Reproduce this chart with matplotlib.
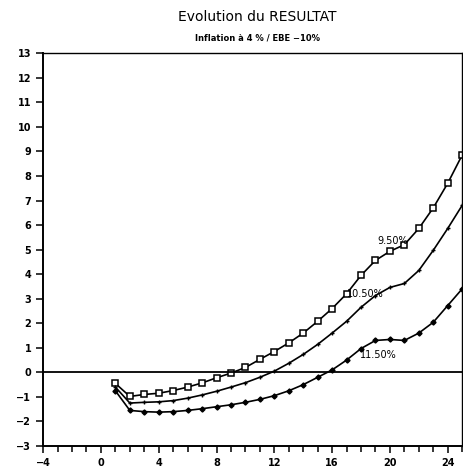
import numpy as np
import matplotlib
matplotlib.use("Agg")
import matplotlib.pyplot as plt

# Data
years = np.arange(1, 26)
res_950 = [-0.45, -0.98, -0.9, -0.85, -0.74, -0.6, -0.43, -0.22, -0.03, 0.2,
           0.53, 0.85, 1.2, 1.6, 2.08, 2.6, 3.2, 3.95, 4.56, 4.93,
           5.2, 5.86, 6.7, 7.7, 8.85]
res_1050 = [-0.6, -1.25, -1.22, -1.2, -1.15, -1.05, -0.92, -0.77, -0.6, -0.42,
            -0.2, 0.05, 0.37, 0.73, 1.14, 1.6, 2.08, 2.65, 3.13, 3.46,
            3.62, 4.15, 4.97, 5.86, 6.8]
res_1150 = [-0.75, -1.55, -1.6, -1.62, -1.6, -1.55, -1.48, -1.4, -1.32, -1.22,
            -1.1, -0.95, -0.75, -0.5, -0.2, 0.1, 0.5, 0.97, 1.3, 1.34,
            1.3, 1.6, 2.04, 2.72, 3.4]
labels = ["9.50%", "10.50%", "11.50%"]
label_pos = [(19.1, 5.37), (17.0, 3.18), (17.9, 0.69)]

fig = plt.figure(figsize=(4.64, 4.75), dpi=100)
ax = fig.add_axes([0.093, 0.061, 0.903, 0.827])

ax.plot(years, res_950, color="black", lw=1.2, marker="s", ms=3.8,
        mfc="white", mec="black", mew=1.1)
ax.plot(years, res_1050, color="black", lw=1.2, marker="+", ms=3.5, mew=1.0)
ax.plot(years, res_1150, color="black", lw=1.2, marker="D", ms=2.6)

for txt, (x, y) in zip(labels, label_pos):
    ax.text(x, y, txt, fontsize=7, ha="left", va="center")

ax.axhline(0, color="black", lw=1.3)

ax.set_xlim(-4, 25)
ax.set_ylim(-3, 13)
ax.set_xticks(np.arange(-4, 25, 4))
ax.set_xticks(np.arange(-4, 26, 1), minor=True)
ax.set_yticks(np.arange(-3, 14, 1))
ax.tick_params(axis="both", which="both", direction="out", width=1.1,
               labelsize=7)
ax.tick_params(axis="x", which="major", length=5)
ax.tick_params(axis="x", which="minor", length=4)
ax.tick_params(axis="y", length=5)
for lab in ax.get_xticklabels() + ax.get_yticklabels():
    lab.set_fontweight("bold")
for s in ["left", "bottom"]:
    ax.spines[s].set_linewidth(1.4)
for s in ["top", "right"]:
    ax.spines[s].set_linewidth(1.0)

fig.text(0.555, 0.955, "Evolution du RESULTAT", ha="center", fontsize=10)
fig.text(0.555, 0.915, "Inflation à 4 % / EBE \u221210%", ha="center",
         fontsize=6, fontweight="bold")

fig.savefig("out.png", dpi=100)
